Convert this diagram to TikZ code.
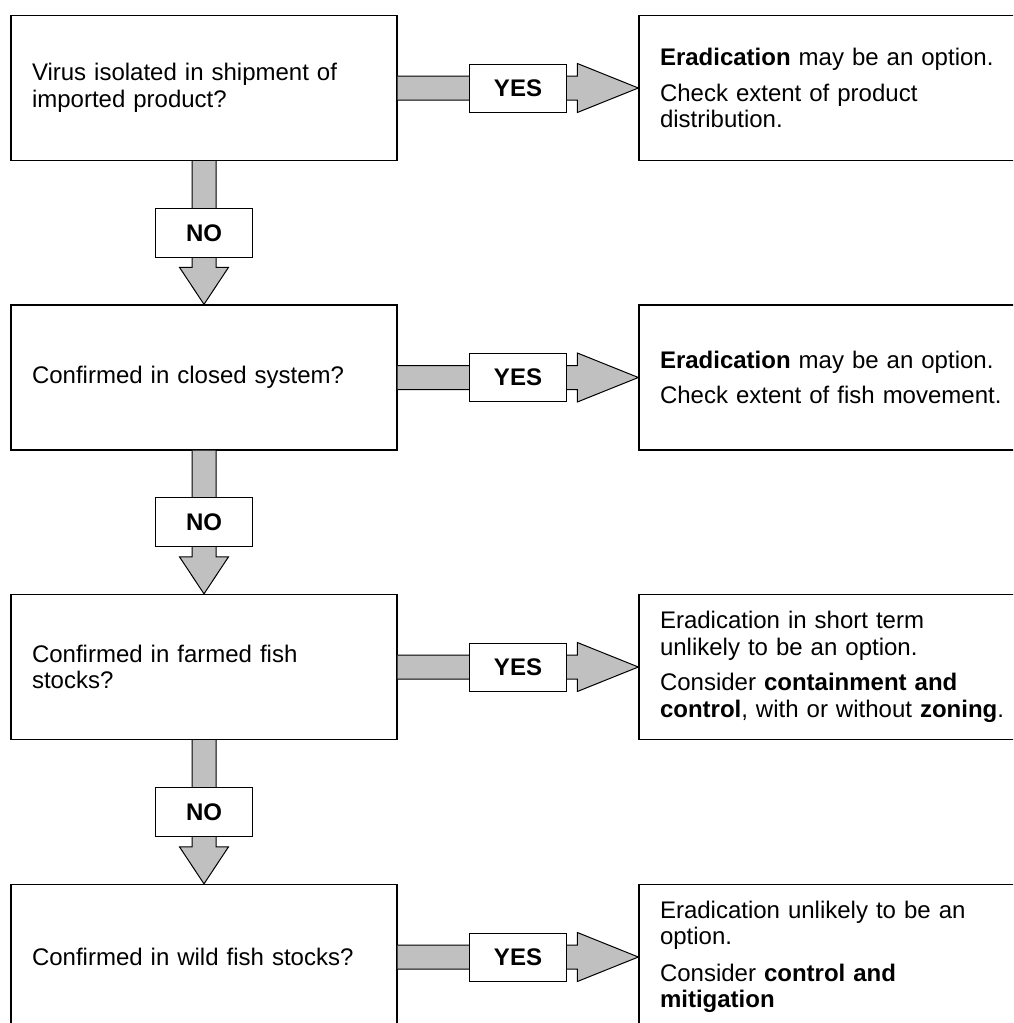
\documentclass[tikz,border=0pt]{standalone}
\usepackage{fontspec}
\setmainfont{Liberation Sans}
\usetikzlibrary{calc}
\definecolor{arrowgrey}{RGB}{192,192,192}
\begin{document}
\begin{tikzpicture}[x=1pt,y=-1pt,
  basefont/.style={font=\fontsize{24}{26.5}\selectfont},
  qbox/.style={draw=black, line width=1.3pt, fill=white, minimum width=386pt,
    minimum height=145pt, text width=344pt, inner xsep=21pt, inner ysep=0pt,
    align=left, basefont},
  abox/.style={draw=black, line width=1.3pt, fill=white, minimum width=402pt,
    minimum height=145pt, text width=360pt, inner xsep=21pt, inner ysep=0pt,
    align=left, basefont},
  lbl/.style={draw=black, line width=1pt, fill=white, minimum width=97pt,
    minimum height=48pt, inner sep=0pt, font=\bfseries\fontsize{24}{26.5}\selectfont},
  arr/.style={fill=arrowgrey, draw=black, line width=1pt, line join=miter}
]
\useasboundingbox (0,0) rectangle (1013,1023);
\clip (0,0) rectangle (1013,1023);

% question boxes
\node[qbox] (q1) at (204,88) {Virus isolated in shipment of\\imported product?};
\node[qbox] (q2) at (204,377.5) {Confirmed in closed system?};
\node[qbox] (q3) at (204,667) {Confirmed in farmed fish\\stocks?};
\node[qbox] (q4) at (204,957) {Confirmed in wild fish stocks?};

% answer boxes
\node[abox] (r1) at (840,88) {\textbf{Eradication} may be an option.\\[9pt]Check extent of product\\distribution.};
\node[abox] (r2) at (840,377.5) {\textbf{Eradication} may be an option.\\[9pt]Check extent of fish movement.};
\node[abox] (r3) at (840,667) {Eradication in short term\\unlikely to be an option.\\[9pt]Consider \textbf{containment and}\\\textbf{control}, with or without \textbf{zoning}.};
\node[abox] (r4) at (840,957) {Eradication unlikely to be an\\option.\\[10pt]Consider \textbf{control and}\\\textbf{mitigation}};

% YES arrows
\foreach \i in {1,2,3,4}{
  \draw[arr] ($(q\i.east)+(0,-12)$) -- ($(r\i.west)+(-61,-12)$)
    -- ($(r\i.west)+(-61,-24.5)$) -- (r\i.west) -- ($(r\i.west)+(-61,24.5)$)
    -- ($(r\i.west)+(-61,12)$) -- ($(q\i.east)+(0,12)$);
  \node[lbl] (yes\i) at ($(q\i.east)!0.5!(r\i.west)$) {YES};
}

% NO arrows
\foreach \i/\j in {1/2,2/3,3/4}{
  \draw[arr] ($(q\i.south)+(-12,0)$) -- ($(q\j.north)+(-12,-37)$)
    -- ($(q\j.north)+(-24.5,-37)$) -- (q\j.north) -- ($(q\j.north)+(24.5,-37)$)
    -- ($(q\j.north)+(12,-37)$) -- ($(q\i.south)+(12,0)$);
  \node[lbl, minimum height=49pt] (no\i) at ($(q\i.south)!0.5!(q\j.north)$) {NO};
}
\end{tikzpicture}
\end{document}
